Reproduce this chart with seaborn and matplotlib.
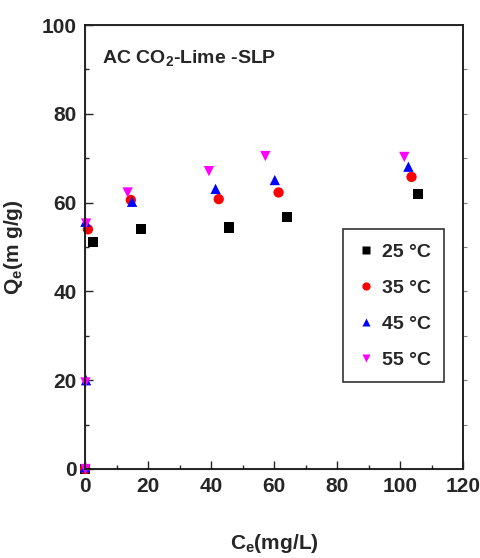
import pandas as pd
import numpy as np
import matplotlib
matplotlib.use('Agg')
import matplotlib.pyplot as plt
import seaborn as sns

sns.set_style('ticks')
plt.rcParams['font.family'] = ['Liberation Sans', 'DejaVu Sans']
plt.rcParams['font.weight'] = 'bold'
plt.rcParams['mathtext.fontset'] = 'custom'
plt.rcParams['mathtext.rm'] = 'Liberation Sans:bold'
plt.rcParams['mathtext.it'] = 'Liberation Sans:bold'
plt.rcParams['mathtext.bf'] = 'Liberation Sans:bold'

# Ce (mg/L) and Qe (mg/g) for each temperature
temps = ['25 °C', '35 °C', '45 °C', '55 °C']
ce_25 = [0.0, 2.4, 17.8, 45.6, 64.1, 105.6]
qe_25 = [0.0, 51.1, 54.1, 54.4, 56.8, 61.9]
ce_35 = [0.0, 0.9, 14.5, 42.4, 61.4, 103.6]
qe_35 = [0.0, 54.0, 60.6, 60.8, 62.3, 65.8]
ce_45 = [0.0, 0.3, 0.1, 14.9, 41.4, 60.2, 102.6]
qe_45 = [0.4, 20.0, 55.7, 60.2, 63.1, 65.1, 68.1]
ce_55 = [0.1, 0.1, 0.3, 13.5, 39.3, 57.2, 101.3]
qe_55 = [0.0, 19.5, 55.3, 62.3, 67.1, 70.5, 70.3]

ce_all = [ce_25, ce_35, ce_45, ce_55]
qe_all = [qe_25, qe_35, qe_45, qe_55]
frames = []
for t, ce, qe in zip(temps, ce_all, qe_all):
    frames.append(pd.DataFrame({'Ce': ce, 'Qe': qe, 'T': t}))
df = pd.concat(frames, ignore_index=True)

colors = {'25 °C': 'black', '35 °C': 'red', '45 °C': 'blue', '55 °C': 'magenta'}
markers = {'25 °C': 's', '35 °C': 'o', '45 °C': '^', '55 °C': 'v'}

fig = plt.figure(figsize=(4.81, 5.58), dpi=100)
ax = fig.add_axes([0.177, 0.1595, 0.786, 0.7955])

sns.scatterplot(data=df, x='Ce', y='Qe', hue='T', style='T', palette=colors,
                markers=markers, s=55, edgecolor='none', ax=ax, clip_on=False)

ax.set_xlim(0, 120)
ax.set_ylim(0, 100)
ax.set_xticks(np.arange(0, 121, 20))
ax.set_yticks(np.arange(0, 101, 20))
ax.set_xticks(np.arange(10, 120, 20), minor=True)
ax.set_yticks(np.arange(10, 100, 20), minor=True)
ax.tick_params(which='both', direction='in', labelsize=15, width=1)
ax.tick_params(which='major', length=6, pad=6)
ax.tick_params(which='minor', length=3)
for lab in ax.get_xticklabels() + ax.get_yticklabels():
    lab.set_fontweight('bold')
for sp in ax.spines.values():
    sp.set_visible(True)
    sp.set_linewidth(1.2)
    sp.set_color('black')

# small outward ticks on the right side
ax_r = ax.twinx()
ax_r.set_ylim(0, 100)
ax_r.set_yticks(np.arange(10, 100, 10))
ax_r.tick_params(direction='out', length=3, labelright=False, colors='grey')
ax_r.spines['right'].set_linewidth(1.2)

ax.set_xlabel(r'C$_e$(mg/L)', fontsize=15, fontweight='bold', labelpad=26)
ax.set_ylabel(r'Q$_e$(m g/g)', fontsize=15, fontweight='bold', labelpad=12)

ax.text(0.045, 0.925, r'AC CO$_{2}$-Lime -SLP', transform=ax.transAxes,
        fontsize=14, fontweight='bold', va='center', ha='left')

leg = ax.legend(loc='upper right', bbox_to_anchor=(0.95, 0.54), frameon=True,
                fancybox=False, edgecolor='black', fontsize=14, markerscale=0.8,
                handletextpad=0.3, labelspacing=0.95, borderpad=0.7,
                handlelength=1.0, borderaxespad=0, title=None)
leg.get_frame().set_linewidth(1.2)
for txt in leg.get_texts():
    txt.set_fontweight('bold')

fig.savefig('out.png', dpi=100)
